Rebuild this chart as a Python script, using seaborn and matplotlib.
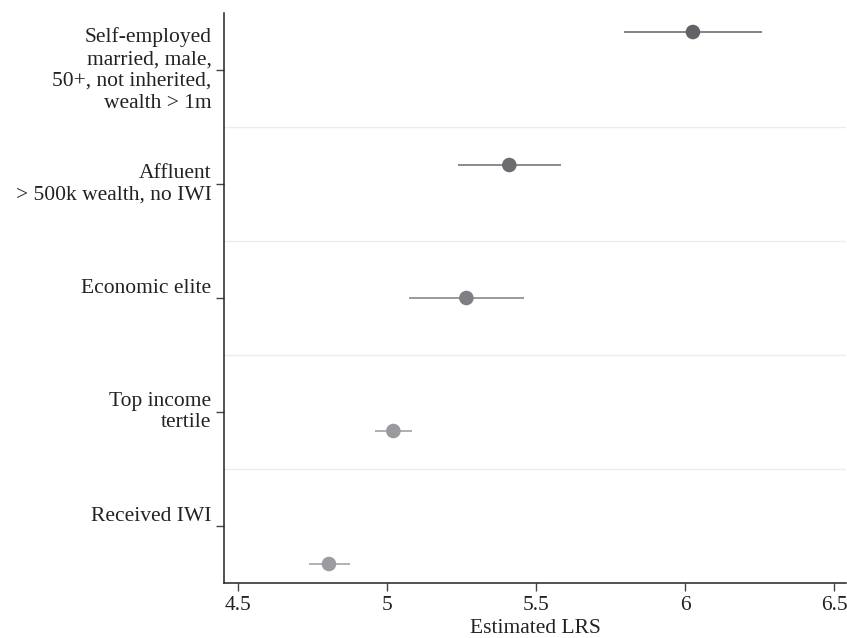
import matplotlib
matplotlib.use("Agg")
import matplotlib.pyplot as plt
import seaborn as sns
import numpy as np
import pandas as pd

# %% data
groups = ["Self-employed\nmarried, male,\n50+, not inherited,\nwealth > 1m",
          "Affluent\n> 500k wealth, no IWI",
          "Economic elite",
          "Top income\ntertile",
          "Received IWI"]
estimate = [6.026, 5.410, 5.266, 5.021, 4.805]
ci_low = [5.794, 5.239, 5.073, 4.958, 4.737]
ci_high = [6.257, 5.583, 5.458, 5.084, 4.875]
colors = ["#636367", "#6b6b70", "#7e7e83", "#9a9a9e", "#9c9ca0"]

# %% styling
sns.set_theme(style="white")
plt.rcParams["font.family"] = ["Liberation Serif", "DejaVu Serif"]
fs = 15.5

df = pd.DataFrame({"group": groups, "est": estimate, "lo": ci_low, "hi": ci_high})
idx = np.arange(len(groups))
# points are spread evenly, slightly offset from the category ticks
df["ypos"] = idx + (idx - (len(groups) - 1) / 2) / 6

fig = plt.figure(figsize=(8.47, 6.38), dpi=100)
ax = fig.add_axes([0.2645, 0.0862, 0.7345, 0.8934])

# separators between groups
for b in idx[:-1] + 0.5:
    ax.axhline(b, color="#ececec", lw=1, zorder=0)

ax.hlines(df["ypos"], df["lo"], df["hi"], colors=colors, lw=1.1, zorder=2)
sns.scatterplot(data=df, x="est", y="ypos", hue="group", palette=colors,
                s=110, edgecolor="none", legend=False, zorder=3, ax=ax)

ax.set_xlim(4.453, 6.54)
ax.set_ylim(len(groups) - 0.5, -0.5)
ax.set_xticks([4.5, 5, 5.5, 6, 6.5])
ax.set_xticklabels(["4.5", "5", "5.5", "6", "6.5"])
ax.set_yticks(idx)
ax.set_yticklabels(groups, fontsize=fs, linespacing=1.2)
ax.set_xlabel("Estimated LRS", fontsize=fs, color="#222222", labelpad=3)
ax.set_ylabel("")

# single-line labels sit just above their tick, multi-line ones are centred
for lab in ax.get_yticklabels():
    lab.set_va("center" if "\n" in lab.get_text() else "bottom")

for side in ["top", "right"]:
    ax.spines[side].set_visible(False)
for side in ["left", "bottom"]:
    ax.spines[side].set_color("#222222")
    ax.spines[side].set_linewidth(1.1)
ax.tick_params(axis="both", direction="out", length=6, width=1, color="#444444",
               labelcolor="#222222", labelsize=fs, pad=3, left=True, bottom=True)

fig.savefig("out.png", dpi=100)
